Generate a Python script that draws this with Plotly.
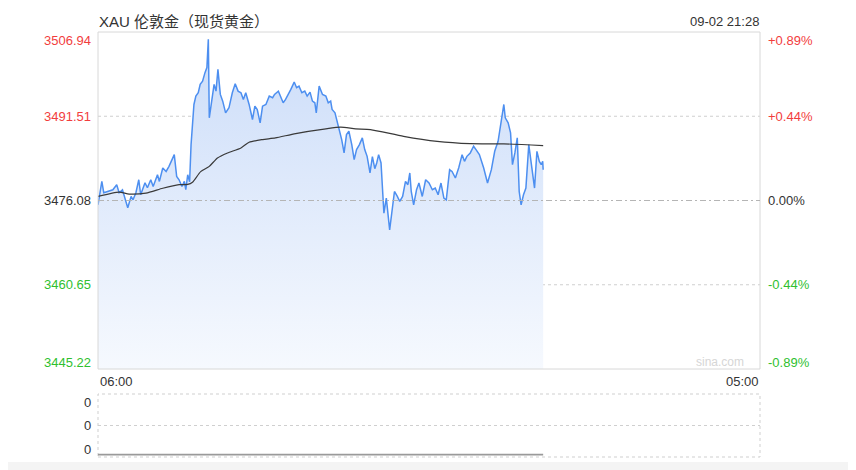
import plotly.graph_objects as go

# ---------------- data ----------------
DATE0 = "2025-09-02"
DATE1 = "2025-09-03"

price_times = [
    "06:00","06:08","06:12","06:20","06:31","06:39","06:44","06:51","06:57","07:02",
    "07:09","07:13","07:19","07:25","07:29","07:38","07:43","07:50","07:55","08:04",
    "08:08","08:15","08:22","08:28","08:39","08:44","08:49","08:55","09:00","09:03",
    "09:07","09:11","09:14","09:17","09:20","09:24","09:29","09:33","09:38","09:43",
    "09:47","09:50","09:52","09:57","10:02","10:06","10:10","10:15","10:20","10:26",
    "10:33","10:40","10:46","10:52","10:58","11:03","11:08","11:15","11:22","11:27",
    "11:32","11:38","11:43","11:50","11:57","12:04","12:08","12:16","12:21","12:26",
    "12:31","12:37","12:42","12:49","12:54","12:59","13:05","13:11","13:16","13:22",
    "13:27","13:32","13:35","13:41","13:48","13:55","14:00","14:05","14:08","14:14",
    "14:19","14:24","14:28","14:33","14:38","14:43","14:49","14:54","14:59","15:05",
    "15:11","15:16","15:21","15:27","15:32","15:37","15:41","15:45","15:50","15:56",
    "16:01","16:08","16:13","16:18","16:24","16:29","16:35","16:41","16:46","16:50",
    "16:53","16:58","17:04","17:09","17:16","17:23","17:30","17:37","17:43","17:49",
    "17:55","18:01","18:06","18:13","18:18","18:25","18:32","18:39","18:44","18:49",
    "18:56","19:03","19:08","19:15","19:24","19:32","19:40","19:47","19:54","19:59",
    "20:06","20:09","20:15","20:20","20:24","20:29","20:34","20:38","20:42","20:47",
    "20:52","20:58","21:03","21:10","21:15","21:20","21:24","21:27","21:28",
]
prices = [
    3475.29,3479.57,3477.50,3477.73,3478.05,3478.97,3477.50,3478.05,3476.21,3474.74,
    3476.82,3476.21,3477.50,3479.88,3477.13,3479.33,3478.41,3479.88,3478.65,3480.80,
    3479.57,3482.04,3481.41,3482.33,3484.48,3480.49,3479.88,3478.65,3479.57,3478.05,
    3480.80,3479.52,3486.32,3491.28,3493.67,3495.20,3495.82,3497.35,3497.95,3499.50,
    3500.42,3505.62,3491.23,3494.28,3497.35,3496.11,3500.10,3495.51,3494.28,3492.14,
    3493.06,3495.82,3497.47,3496.11,3495.82,3494.59,3495.82,3493.67,3490.91,3493.36,
    3492.75,3490.31,3493.36,3493.67,3495.20,3494.90,3495.51,3496.11,3495.20,3493.98,
    3494.59,3495.51,3496.43,3497.77,3496.74,3497.03,3495.82,3496.11,3495.20,3495.93,
    3494.28,3493.98,3492.14,3497.03,3495.51,3495.20,3493.98,3494.28,3492.75,3492.14,
    3490.31,3489.07,3487.24,3484.79,3488.16,3488.76,3486.32,3483.56,3485.40,3486.32,
    3487.55,3485.40,3484.17,3481.12,3484.11,3481.91,3482.95,3484.48,3482.95,3473.76,
    3476.52,3470.69,3474.37,3477.73,3476.82,3475.90,3476.82,3479.57,3478.97,3481.12,
    3477.73,3475.29,3478.05,3479.28,3476.82,3479.88,3479.28,3478.05,3478.36,3477.13,
    3479.28,3476.52,3476.21,3481.72,3481.41,3480.20,3482.09,3484.48,3483.25,3484.17,
    3484.79,3486.01,3485.40,3484.48,3482.04,3479.28,3481.72,3485.09,3486.92,3489.99,
    3493.67,3491.23,3490.31,3488.47,3482.64,3484.79,3487.55,3477.73,3475.29,3477.13,
    3478.36,3486.32,3482.64,3478.36,3485.09,3483.25,3482.64,3483.25,3481.72,
]

avg_times = [
    "06:00","06:44","07:05","07:40","08:15","08:49","09:07","09:17","09:34","09:52",
    "10:09","10:30","10:58","11:15","11:43","12:10","12:52","13:55","14:26","14:57",
    "15:28","16:37","17:47","18:56","20:06","21:28",
]
avg_prices = [
    3476.82,3477.62,3477.26,3477.44,3478.32,3478.97,3479.02,3479.43,3481.36,3482.33,
    3483.87,3484.79,3485.71,3486.74,3487.24,3487.55,3488.34,3489.20,3489.50,3489.20,
    3489.07,3487.84,3486.92,3486.50,3486.45,3486.13,
]

y_ticks = [3506.94, 3491.51, 3476.08, 3460.65, 3445.22]
y_tick_labels = ["3506.94", "3491.51", "3476.08", "3460.65", "3445.22"]
pct_labels = ["+0.89%", "+0.44%", "0.00%", "-0.44%", "-0.89%"]
label_colors = ["#f23d3d", "#f23d3d", "#333333", "#2fbf2f", "#2fbf2f"]
prev_close = 3476.08

title_text = "XAU 伦敦金（现货黄金）"
time_text = "09-02 21:28"
x_start_label = "06:00"
x_end_label = "05:00"
vol_labels = ["0", "0", "0"]

# ---------------- figure ----------------
OFF = 8                       # page body margin
W, H = 856 - OFF, 470 - OFF
FONT = "Liberation Sans, Arial, Noto Sans CJK SC, sans-serif"

px = [f"{DATE0} {t}" for t in price_times]
ax = [f"{DATE0} {t}" for t in avg_times]
x_range = [f"{DATE0} 06:00", f"{DATE1} 05:00"]

def xd(p):  # page pixel -> paper x
    return (p - OFF) / W

def yd(p):  # page pixel -> paper y
    return 1 - (p - OFF) / H

fig = go.Figure()

fig.add_trace(go.Scatter(x=px, y=[y_ticks[-1]] * len(px), mode="lines",
                         line=dict(width=0), hoverinfo="skip", showlegend=False,
                         xaxis="x", yaxis="y"))
fig.add_trace(go.Scatter(
    x=px, y=prices, mode="lines", fill="tonexty",
    fillgradient=dict(type="vertical",
                      colorscale=[[0, "rgba(246,249,254,1)"], [1, "rgba(204,221,249,1)"]]),
    line=dict(color="#4d8ff0", width=1.5), showlegend=False, xaxis="x", yaxis="y"))
fig.add_trace(go.Scatter(x=ax, y=avg_prices, mode="lines",
                         line=dict(color="#3a3a3a", width=1.2, shape="spline", smoothing=0.6),
                         showlegend=False, xaxis="x", yaxis="y"))
fig.add_trace(go.Scatter(x=px, y=[0] * len(px), mode="lines",
                         line=dict(color="#9a9a9a", width=1.6),
                         showlegend=False, xaxis="x2", yaxis="y2"))

xdom = [xd(98), xd(760)]
fig.update_layout(
    width=W, height=H, margin=dict(l=0, r=0, t=0, b=0),
    paper_bgcolor="white", plot_bgcolor="white",
    font=dict(family=FONT, color="#333333"),
    hovermode=False,
    xaxis=dict(domain=xdom, range=x_range, type="date", showgrid=False,
               showticklabels=False, zeroline=False, fixedrange=True),
    yaxis=dict(domain=[yd(369), yd(32)], range=[y_ticks[-1], y_ticks[0]],
               showgrid=False, showticklabels=False, zeroline=False),
    xaxis2=dict(domain=xdom, range=x_range, type="date", showgrid=False,
                showticklabels=False, zeroline=False, anchor="y2"),
    yaxis2=dict(domain=[yd(457), yd(394)], range=[-0.04, 1], showgrid=False,
                showticklabels=False, zeroline=False, anchor="x2"),
)

shapes = []
shapes.append(dict(type="rect", xref="x domain", yref="y domain", x0=0, x1=1, y0=0, y1=1,
                   line=dict(color="#d8d8d8", width=1), layer="above"))
for v in (y_ticks[1], y_ticks[3]):
    shapes.append(dict(type="line", xref="x domain", yref="y", x0=0, x1=1, y0=v, y1=v,
                       line=dict(color="#cfcfcf", width=1, dash="dot"), layer="below"))
shapes.append(dict(type="line", xref="x domain", yref="y", x0=0, x1=1, y0=prev_close, y1=prev_close,
                   line=dict(color="#b5b5b5", width=1, dash="6px,3px,2px,3px"), layer="above"))
shapes.append(dict(type="rect", xref="x2 domain", yref="y2 domain", x0=0, x1=1, y0=0, y1=1,
                   line=dict(color="#cfcfcf", width=1, dash="dot"), layer="below"))
shapes.append(dict(type="line", xref="x2 domain", yref="y2 domain", x0=0, x1=1, y0=0.5, y1=0.5,
                   line=dict(color="#cfcfcf", width=1, dash="dot"), layer="below"))
shapes.append(dict(type="rect", xref="paper", yref="paper", x0=0, x1=1, y0=0, y1=yd(462),
                   fillcolor="#f4f4f4", line=dict(width=0), layer="below"))
fig.update_layout(shapes=shapes)

ann = []
shifts = [-8, 0, 0, 0, 7]
for v, lab, pl, col, sh in zip(y_ticks, y_tick_labels, pct_labels, label_colors, shifts):
    ann.append(dict(xref="paper", yref="y", x=xd(93), y=v, text=lab, showarrow=False,
                    xanchor="right", yanchor="middle", yshift=sh, font=dict(size=13, color=col)))
    ann.append(dict(xref="paper", yref="y", x=xd(766), y=v, text=pl, showarrow=False,
                    xanchor="left", yanchor="middle", yshift=sh, font=dict(size=13, color=col)))

ann.append(dict(xref="paper", yref="paper", x=xd(97), y=yd(22), text=title_text, showarrow=False,
                xanchor="left", yanchor="middle",
                font=dict(size=15, color="#333333", family="Liberation Sans, Noto Sans CJK SC, sans-serif")))
ann.append(dict(xref="paper", yref="paper", x=xd(761), y=yd(22), text=time_text, showarrow=False,
                xanchor="right", yanchor="middle", font=dict(size=13, color="#333333")))
ann.append(dict(xref="paper", yref="paper", x=xd(98), y=yd(381), text=x_start_label, showarrow=False,
                xanchor="left", yanchor="middle", font=dict(size=13, color="#333333")))
ann.append(dict(xref="paper", yref="paper", x=xd(761), y=yd(381), text=x_end_label, showarrow=False,
                xanchor="right", yanchor="middle", font=dict(size=13, color="#333333")))
ann.append(dict(xref="paper", yref="paper", x=xd(746), y=yd(362), text="sina.com", showarrow=False,
                xanchor="right", yanchor="middle", font=dict(size=12, color="#d6d6d6")))
for i, yy in enumerate([402, 425, 449]):
    ann.append(dict(xref="paper", yref="paper", x=xd(93), y=yd(yy), text=vol_labels[i], showarrow=False,
                    xanchor="right", yanchor="middle", font=dict(size=13, color="#333333")))
fig.update_layout(annotations=ann)

fig.write_html("out.html")
